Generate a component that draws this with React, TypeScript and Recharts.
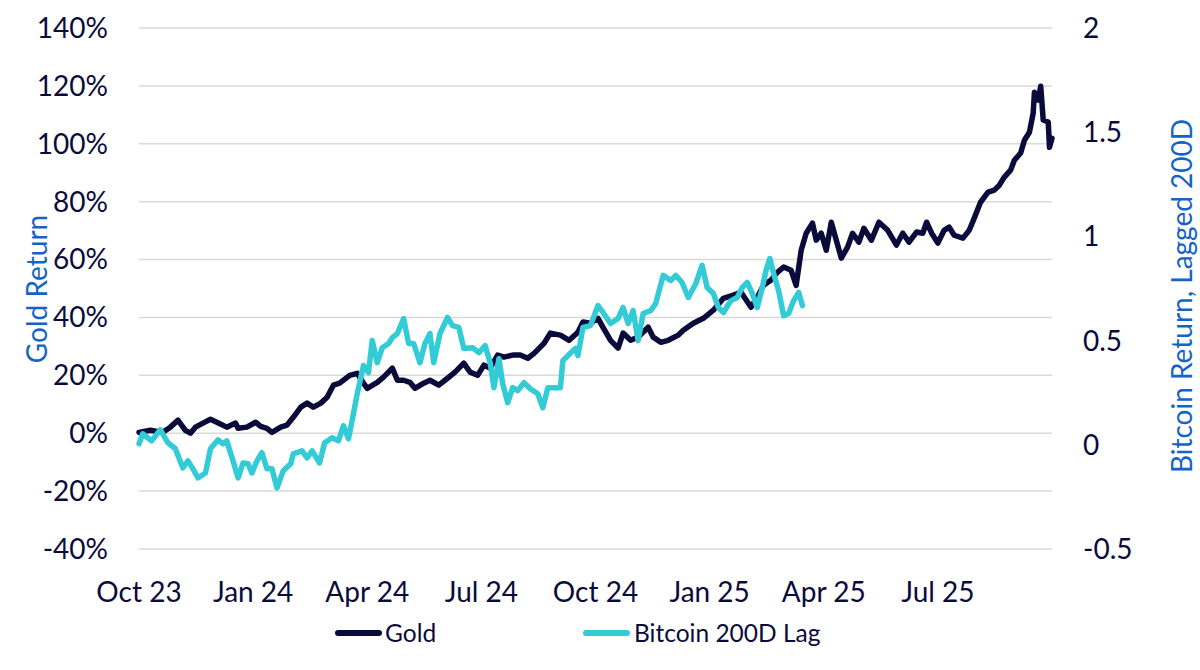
import React from "react";
import { LineChart, Line, XAxis, YAxis, CartesianGrid } from "recharts";

// Day offsets from the first observation (x position) and cumulative returns
const goldDay = [
  0, 9, 19, 25, 31, 37, 41, 45, 51, 57,
  62, 70, 77, 79, 86, 93, 97, 102, 106, 113,
  118, 123, 129, 134, 139, 145, 150, 155, 160, 168,
  174, 179, 182, 190, 195, 202, 206, 211, 216, 220,
  227, 232, 239, 246, 252, 259, 264, 270, 275, 280,
  286, 291, 298, 304, 310, 315, 323, 328, 336, 343,
  350, 354, 360, 366, 370, 376, 382, 386, 392, 398,
  406, 410, 416, 422, 430, 434, 442, 450, 458, 466,
  474, 480, 488, 493, 498, 504, 509, 514, 520, 524,
  528, 532, 537, 540, 544, 548, 552, 556, 560, 565,
  569, 574, 578, 584, 590, 597, 604, 609, 614, 620,
  625, 628, 632, 637, 642, 646, 650, 657, 662, 666,
  671, 677, 682, 686, 690, 695, 698, 703, 706, 710,
  713, 714, 717, 719, 721, 725, 726, 728,
];
const goldReturn = [
  0.3, 1.0, 0.3, 2.1, 4.5, 1.0, 0, 2.1, 3.5, 4.8,
  3.8, 2.1, 3.5, 1.7, 2.1, 3.8, 2.4, 1.7, 0.3, 2.1,
  2.8, 5.5, 9.0, 10.4, 9.0, 10.4, 12.4, 16.6, 17.3, 20.0,
  20.7, 17.3, 15.5, 17.6, 19.4, 22.5, 18.3, 18.3, 17.6, 15.5,
  17.3, 18.3, 16.6, 19.0, 21.1, 24.2, 21.1, 20.0, 23.5, 22.5,
  27.0, 26.3, 27.0, 27.0, 25.9, 27.6, 31.1, 34.6, 33.9, 32.1,
  34.9, 38.4, 38.0, 39.7, 36.6, 32.1, 29.4, 34.6, 32.1, 33.2,
  36.6, 33.2, 31.4, 32.1, 33.9, 35.6, 38.0, 39.7, 42.5, 46.6,
  47.7, 48.7, 43.5, 47.0, 51.1, 52.9, 55.6, 57.4, 56.3, 51.1,
  63.2, 69.1, 72.6, 66.7, 69.1, 63.2, 72.9, 66.7, 60.5, 64.3,
  69.1, 66.0, 70.8, 66.7, 72.9, 70.1, 65.0, 69.1, 66.0, 69.5,
  69.1, 72.9, 69.1, 65.7, 70.1, 71.2, 68.4, 67.4, 70.1, 74.3,
  79.8, 83.3, 84.0, 85.7, 88.5, 90.9, 94.3, 96.8, 101.2, 104.0,
  110.6, 117.8, 115.1, 119.9, 108.2, 107.5, 98.8, 101.9,
];

const btcDay = [
  0, 3, 10, 17, 23, 29, 35, 39, 43, 47,
  53, 57, 63, 67, 70, 75, 79, 83, 87, 90,
  94, 98, 102, 106, 110, 115, 121, 123, 130, 134,
  138, 144, 148, 154, 159, 163, 167, 171, 174, 179,
  183, 186, 190, 194, 199, 202, 206, 211, 215, 219,
  224, 228, 232, 235, 240, 246, 250, 255, 259, 266,
  271, 276, 280, 283, 287, 290, 294, 298, 302, 307,
  312, 318, 322, 326, 330, 336, 338, 342, 348, 350,
  354, 360, 366, 370, 376, 382, 386, 390, 394, 398,
  402, 408, 412, 418, 424, 428, 433, 438, 444, 449,
  453, 458, 462, 466, 472, 477, 481, 485, 489, 493,
  497, 500, 503, 506, 510, 514, 518, 522, 526, 529,
];
const btcReturn = [
  0.005, 0.053, 0.019, 0.072, 0.01, -0.019, -0.111, -0.077, -0.115, -0.159,
  -0.135, -0.019, 0.024, 0.005, 0.019, -0.077, -0.159, -0.087, -0.091, -0.135,
  -0.077, -0.038, -0.115, -0.115, -0.207, -0.125, -0.091, -0.043, -0.029, -0.063,
  -0.029, -0.087, 0.01, 0.034, 0.019, 0.091, 0.029, 0.149, 0.245, 0.38,
  0.346, 0.5, 0.394, 0.466, 0.486, 0.514, 0.534, 0.606, 0.486, 0.486,
  0.394, 0.486, 0.534, 0.394, 0.534, 0.611, 0.572, 0.563, 0.462, 0.466,
  0.442, 0.476, 0.394, 0.274, 0.413, 0.293, 0.202, 0.274, 0.26, 0.298,
  0.269, 0.245, 0.178, 0.274, 0.274, 0.274, 0.404, 0.428, 0.462, 0.428,
  0.563, 0.572, 0.668, 0.635, 0.582, 0.606, 0.659, 0.582, 0.644, 0.5,
  0.63, 0.644, 0.678, 0.813, 0.788, 0.813, 0.779, 0.707, 0.774, 0.861,
  0.755, 0.726, 0.659, 0.635, 0.692, 0.707, 0.755, 0.779, 0.726, 0.659,
  0.755, 0.837, 0.894, 0.822, 0.74, 0.62, 0.63, 0.692, 0.731, 0.668,
];

const xTickDays = [0, 91, 182, 273, 364, 455, 546, 637];
const xTickLabels = ["Oct 23", "Jan 24", "Apr 24", "Jul 24", "Oct 24", "Jan 25", "Apr 25", "Jul 25"];
const leftTicks = [-40, -20, 0, 20, 40, 60, 80, 100, 120, 140];
const rightTicks = [-0.5, 0, 0.5, 1, 1.5, 2];

const goldData = goldDay.map((d, i) => ({ day: d, gold: goldReturn[i] }));
const btcData = btcDay.map((d, i) => ({ day: d, btc: btcReturn[i] }));

const NAVY = "#0B0B3B";
const CYAN = "#33CCD6";
const BLUE = "#1463C6";
const FONT = "Lato, 'Open Sans', sans-serif";
const FS = 28;
const LEGEND_FS = 24.5;

const tickStyle = { fill: NAVY, fontSize: FS, fontFamily: FONT };

const legendText: React.CSSProperties = {
  position: "absolute",
  top: 633,
  transform: "translateY(-50%)",
  fontFamily: FONT,
  fontSize: LEGEND_FS,
  color: NAVY,
  lineHeight: 1,
  whiteSpace: "nowrap",
};

const legendLine = (left: number, color: string): React.CSSProperties => ({
  position: "absolute",
  left,
  top: 630,
  width: 47,
  height: 6,
  borderRadius: 3,
  background: color,
});

export default function App() {
  return (
    <div style={{ position: "absolute", left: 0, top: 0, width: 1200, height: 670, background: "#fff" }}>
      <LineChart
        width={1200}
        height={670}
        margin={{ top: 28, right: 0, bottom: 0, left: 0 }}
      >
        <CartesianGrid yAxisId="left" vertical={false} stroke="#D9D9D9" strokeWidth={1.5} />
        <XAxis
          dataKey="day"
          type="number"
          domain={[0, 728]}
          ticks={xTickDays}
          tickFormatter={(v) => xTickLabels[xTickDays.indexOf(v)] ?? ""}
          axisLine={false}
          tickLine={false}
          tickSize={0}
          tickMargin={33}
          height={121}
          tick={tickStyle}
          interval={0}
          allowDuplicatedCategory={false}
        />
        <YAxis
          yAxisId="left"
          orientation="left"
          domain={[-40, 140]}
          ticks={leftTicks}
          tickFormatter={(v) => `${v}%`}
          axisLine={false}
          tickLine={false}
          tickSize={0}
          tickMargin={31}
          width={139}
          tick={tickStyle}
          interval={0}
        />
        <YAxis
          yAxisId="right"
          orientation="right"
          domain={[-0.5, 2]}
          ticks={rightTicks}
          tickFormatter={(v) => `${v}`}
          axisLine={false}
          tickLine={false}
          tickSize={0}
          tickMargin={31}
          width={148}
          tick={tickStyle}
          interval={0}
        />
        <Line
          yAxisId="left"
          data={goldData}
          dataKey="gold"
          type="linear"
          stroke={NAVY}
          strokeWidth={5.5}
          strokeLinejoin="round"
          strokeLinecap="round"
          dot={false}
          isAnimationActive={false}
        />
        <Line
          yAxisId="right"
          data={btcData}
          dataKey="btc"
          type="linear"
          stroke={CYAN}
          strokeWidth={5.5}
          strokeLinejoin="round"
          strokeLinecap="round"
          dot={false}
          isAnimationActive={false}
        />
      </LineChart>

      {/* Axis titles */}
      <div
        style={{
          position: "absolute",
          left: 36,
          top: 289,
          transform: "translate(-50%, -50%) rotate(-90deg)",
          whiteSpace: "nowrap",
          color: BLUE,
          fontFamily: FONT,
          fontSize: FS,
          lineHeight: 1,
        }}
      >
        Gold Return
      </div>
      <div
        style={{
          position: "absolute",
          left: 1181,
          top: 296,
          transform: "translate(-50%, -50%) rotate(-90deg)",
          whiteSpace: "nowrap",
          color: BLUE,
          fontFamily: FONT,
          fontSize: FS,
          lineHeight: 1,
        }}
      >
        Bitcoin Return, Lagged 200D
      </div>

      {/* Legend */}
      <div style={legendLine(335, NAVY)} />
      <div style={{ ...legendText, left: 385 }}>Gold</div>
      <div style={legendLine(583, CYAN)} />
      <div style={{ ...legendText, left: 634 }}>Bitcoin 200D Lag</div>
    </div>
  );
}
